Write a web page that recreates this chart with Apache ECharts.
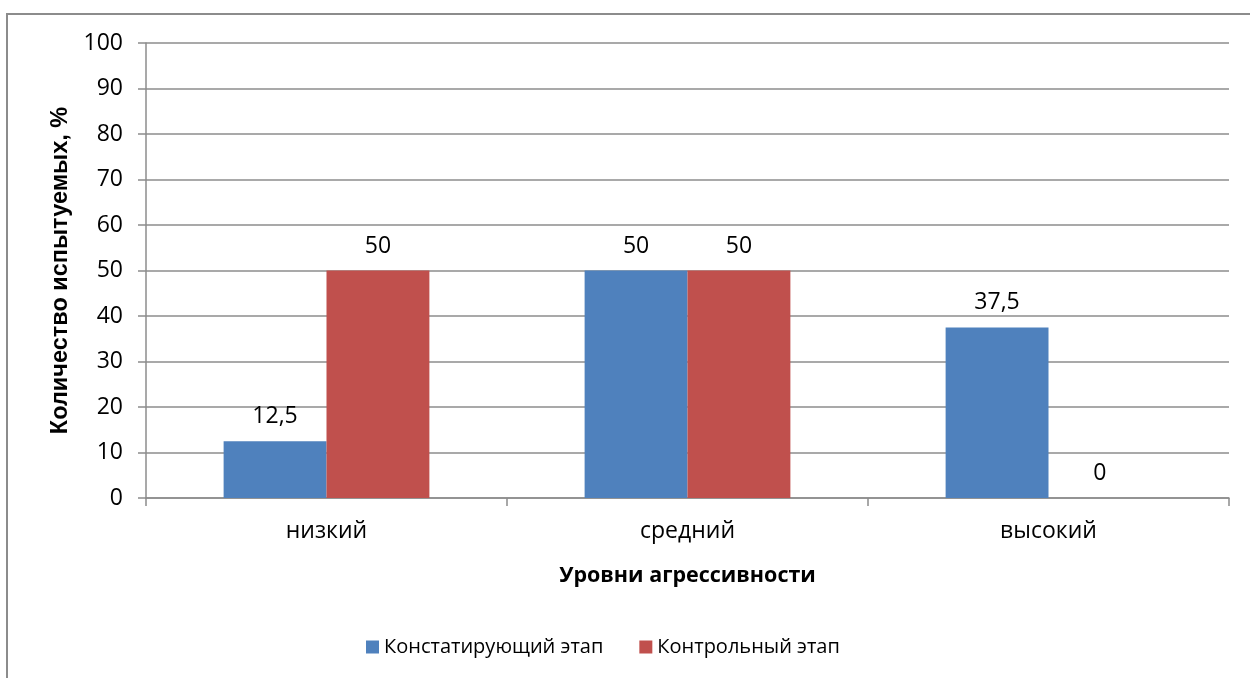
<!DOCTYPE html>
<html>
<head>
<meta charset="utf-8">
<title>Уровни агрессивности</title>
<script src="https://cdn.jsdelivr.net/npm/echarts@6/dist/echarts.min.js"></script>
<style>
  body { margin: 0; padding: 0; background: #fff; overflow: hidden; }
  .frame { position: absolute; left: 6px; top: 13px; width: 1300px; height: 720px; border: 2px solid #8c8c8c; box-sizing: border-box; }
  #chart { position: absolute; left: 0; top: 0; width: 1250px; height: 678px; }
</style>
</head>
<body>
<div class="frame"></div>
<div id="chart"></div>
<script type="text/javascript">
    // данные диаграммы
    var levels = ['низкий', 'средний', 'высокий'];
    var stageNames = ['Констатирующий этап', 'Контрольный этап'];
    var ascertaining = [12.5, 50, 37.5];
    var control = [50, 50, 0];

    var font = '"Open Sans", sans-serif';

    function fmt(p) {
        return String(p.value).replace('.', ',');
    }

    var chart = echarts.init(document.getElementById('chart'));
    chart.setOption({
        backgroundColor: 'transparent',
        animation: false,
        grid: { left: 146, right: 21, top: 43, bottom: 180 },
        legend: {
            data: stageNames,
            bottom: 16,
            left: 361,
            itemWidth: 13,
            itemHeight: 13,
            itemGap: 36,
            icon: 'rect',
            textStyle: { fontFamily: font, fontSize: 20, color: '#000' }
        },
        xAxis: {
            type: 'category',
            data: levels,
            name: 'Уровни агрессивности',
            nameLocation: 'middle',
            nameGap: 67,
            nameTextStyle: { fontFamily: font, fontSize: 21.5, fontWeight: 'bold', color: '#000' },
            axisLine: { lineStyle: { color: '#8c8c8c', width: 1.5 } },
            axisTick: { show: true, length: 8, lineStyle: { color: '#8c8c8c', width: 1.5 } },
            axisLabel: { fontFamily: font, fontSize: 23, color: '#000', margin: 22 }
        },
        yAxis: {
            type: 'value',
            min: 0,
            max: 100,
            interval: 10,
            name: 'Количество испытуемых, %',
            nameLocation: 'middle',
            nameGap: 72,
            nameTextStyle: { fontFamily: '"Liberation Sans", Arial, sans-serif', fontSize: 23.5, fontWeight: 'bold', color: '#000' },
            axisLine: { show: true, lineStyle: { color: '#8c8c8c', width: 1.5 } },
            axisTick: { show: true, length: 8, lineStyle: { color: '#8c8c8c', width: 1.5 } },
            axisLabel: { fontFamily: font, fontSize: 23, color: '#000', margin: 23 },
            splitLine: { lineStyle: { color: '#8c8c8c', width: 1.5 } }
        },
        series: [
            {
                name: stageNames[0],
                type: 'bar',
                data: ascertaining,
                itemStyle: { color: '#4F81BD' },
                barGap: '0%',
                barCategoryGap: '43%',
                label: { show: true, position: 'top', distance: 13, formatter: fmt, fontFamily: font, fontSize: 23, color: '#000' }
            },
            {
                name: stageNames[1],
                type: 'bar',
                data: control,
                itemStyle: { color: '#C0504D' },
                label: { show: true, position: 'top', distance: 13, formatter: fmt, fontFamily: font, fontSize: 23, color: '#000' }
            }
        ]
    });
</script>
</body>
</html>
